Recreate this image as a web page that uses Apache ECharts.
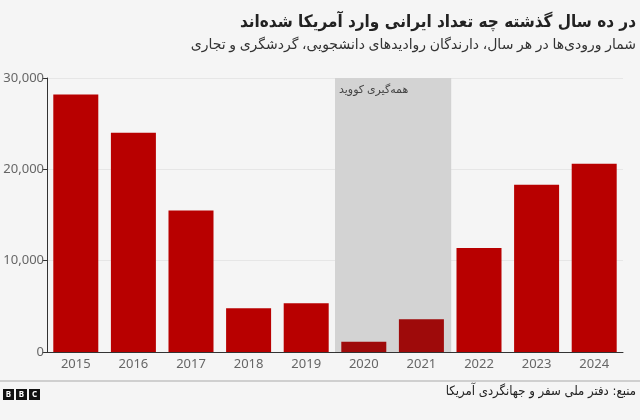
<!DOCTYPE html>
<html>
<head>
<meta charset="utf-8">
<script src="https://cdn.jsdelivr.net/npm/echarts@6/dist/echarts.min.js"></script>
<style>
  html, body { margin: 0; padding: 0; background: #f5f5f5; }
  #chart { width: 640px; height: 420px; }
</style>
</head>
<body>
<div id="chart"></div>
<script>
// داده‌ها
const years = ['2015', '2016', '2017', '2018', '2019', '2020', '2021', '2022', '2023', '2024']
const arrivals = [28200, 24000, 15500, 4800, 5350, 1130, 3580, 11400, 18300, 20600]
const covidYears = ['2020', '2021']
const yTicks = [0, 10000, 20000, 30000]

const titleText = 'در ده سال گذشته چه تعداد ایرانی وارد آمریکا شده‌اند'
const subtitleText = 'شمار ورودی‌ها در هر سال، دارندگان روادیدهای دانشجویی، گردشگری و تجاری'
const sourceText = 'منبع: دفتر ملی سفر و جهانگردی آمریکا'
const bandLabel = 'همه‌گیری کووید'

const font = '"Noto Sans", "DejaVu Sans", sans-serif'
const condFont = '"DejaVu Sans Condensed", "DejaVu Sans", sans-serif'
const yMax = yTicks[yTicks.length - 1]

const chart = echarts.init(document.getElementById('chart'))

const bandData = years.map((y) => {
  if (!covidYears.includes(y)) return null
  const item = {value: yMax}
  if (y === covidYears[0]) {
    item.label = {
      show: true,
      position: 'insideTopLeft',
      formatter: bandLabel,
      color: '#444',
      fontSize: 11,
      fontFamily: font,
      offset: [-1, 1]
    }
  }
  return item
})

const barData = years.map((y, i) => ({
  value: arrivals[i],
  itemStyle: {color: covidYears.includes(y) ? '#9e0a0a' : '#b80000'}
}))

chart.setOption({
  backgroundColor: '#f5f5f5',
  animation: false,
  grid: {left: 47, right: 17, top: 78, bottom: 68},
  xAxis: [
    {
      type: 'category',
      data: years,
      axisLine: {lineStyle: {color: '#333', width: 1}},
      axisTick: {alignWithLabel: true, length: 4, lineStyle: {color: '#333'}},
      axisLabel: {color: '#666', fontSize: 13, fontFamily: font, margin: 6}
    },
    {
      type: 'category',
      data: years,
      show: false
    }
  ],
  yAxis: {
    type: 'value',
    min: 0,
    max: yMax,
    interval: 10000,
    axisLine: {show: true, lineStyle: {color: '#333'}},
    axisTick: {show: true, length: 5, lineStyle: {color: '#333'}},
    axisLabel: {
      color: '#666',
      fontSize: 13,
      fontFamily: font,
      margin: 3,
      formatter: (v) => v.toLocaleString('en-US')
    },
    splitLine: {lineStyle: {color: '#e6e6e6'}}
  },
  series: [
    {
      type: 'bar',
      xAxisIndex: 1,
      data: bandData,
      barWidth: '100%',
      // shadow nudged 1px right hides the hairline seam between the two band bars
      itemStyle: {color: '#d3d3d3', shadowColor: '#d3d3d3', shadowBlur: 0, shadowOffsetX: 1},
      z: 1,
      silent: true
    },
    {
      type: 'bar',
      data: barData,
      barWidth: 45,
      z: 3
    }
  ],
  graphic: [
    {
      type: 'text',
      right: 4,
      top: 14,
      style: {
        text: titleText,
        fill: '#222',
        font: 'bold 17px ' + condFont,
        textAlign: 'right'
      }
    },
    {
      type: 'text',
      right: 4,
      top: 38,
      style: {
        text: subtitleText,
        fill: '#333',
        font: '14px ' + font,
        textAlign: 'right'
      }
    },
    {
      type: 'rect',
      left: 0,
      top: 380,
      shape: {width: 640, height: 2},
      style: {fill: '#cfcfcf'}
    },
    {
      type: 'group',
      left: 3,
      top: 389,
      children: ['B', 'B', 'C'].flatMap((ch, i) => [
        {
          type: 'rect',
          shape: {x: i * 13, y: 0, width: 11, height: 11},
          style: {fill: '#111'}
        },
        {
          type: 'text',
          x: i * 13 + 5.5,
          y: 5.5,
          style: {
            text: ch,
            fill: '#fff',
            font: 'bold 8px ' + font,
            textAlign: 'center',
            textVerticalAlign: 'middle'
          }
        }
      ])
    },
    {
      type: 'text',
      right: 4,
      top: 385,
      style: {
        text: sourceText,
        fill: '#222',
        font: '13px ' + condFont,
        textAlign: 'right'
      }
    }
  ]
})
</script>
</body>
</html>
